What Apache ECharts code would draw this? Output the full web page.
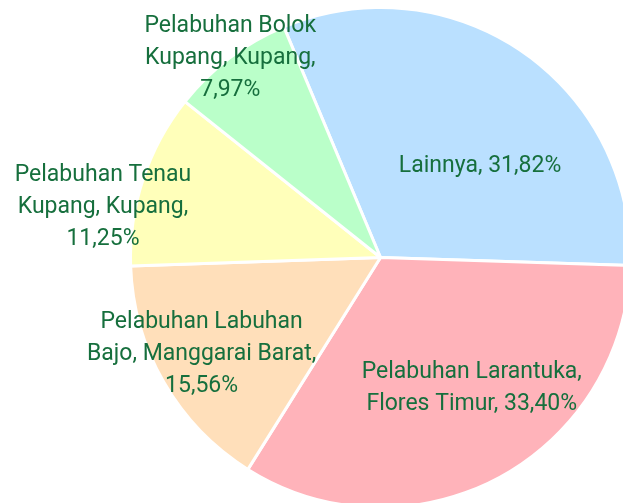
<!DOCTYPE html>
<html>
<head>
<meta charset="utf-8">
<script src="https://cdn.jsdelivr.net/npm/echarts@6/dist/echarts.min.js"></script>
<style>
  html, body { margin: 0; padding: 0; background: #ffffff; }
  #chart { width: 623px; height: 503px; }
</style>
</head>
<body>
<div id="chart"></div>
<script>
// Share of ports (percent)
const categories = [
  'Lainnya',
  'Pelabuhan Larantuka,\nFlores Timur',
  'Pelabuhan Labuhan\nBajo, Manggarai Barat',
  'Pelabuhan Tenau\nKupang, Kupang',
  'Pelabuhan Bolok\nKupang, Kupang'
];
const shares = [31.82, 33.40, 15.56, 11.25, 7.97];

// Slice colours
const sliceColors = ['#bae0ff', '#ffb3ba', '#ffdfba', '#ffffba', '#baffc9'];

// Label nudges from the default in-slice anchor, per slice
const labelShift = [
  [27, 14],
  [31, 18],
  [-68, 33],
  [-156, -10],
  [-73, -97]
];

const fmt = v => v.toFixed(2).replace('.', ',') + '%';

const chart = echarts.init(document.getElementById('chart'));
chart.setOption({
  backgroundColor: '#ffffff',
  animation: false,
  series: [{
    type: 'pie',
    center: [380.5, 257.5],
    radius: 250,
    startAngle: 112.75,
    clockwise: true,
    avoidLabelOverlap: false,
    itemStyle: { borderColor: '#ffffff', borderWidth: 3 },
    label: {
      show: true,
      position: 'inside',
      align: 'center',
      color: '#166f3d',
      fontFamily: 'Roboto, sans-serif',
      fontSize: 23,
      lineHeight: 32,
      formatter: p => {
        if (p.dataIndex <= 1) return p.name + ', ' + fmt(p.value);
        return p.name + ',\n' + fmt(p.value);
      }
    },
    labelLine: { show: false },
    labelLayout: params => {
      const s = labelShift[params.dataIndex];
      return { dx: s[0], dy: s[1] };
    },
    emphasis: { disabled: true },
    data: categories.map((c, i) => ({
      name: c,
      value: shares[i],
      itemStyle: { color: sliceColors[i] }
    }))
  }]
});
</script>
</body>
</html>
